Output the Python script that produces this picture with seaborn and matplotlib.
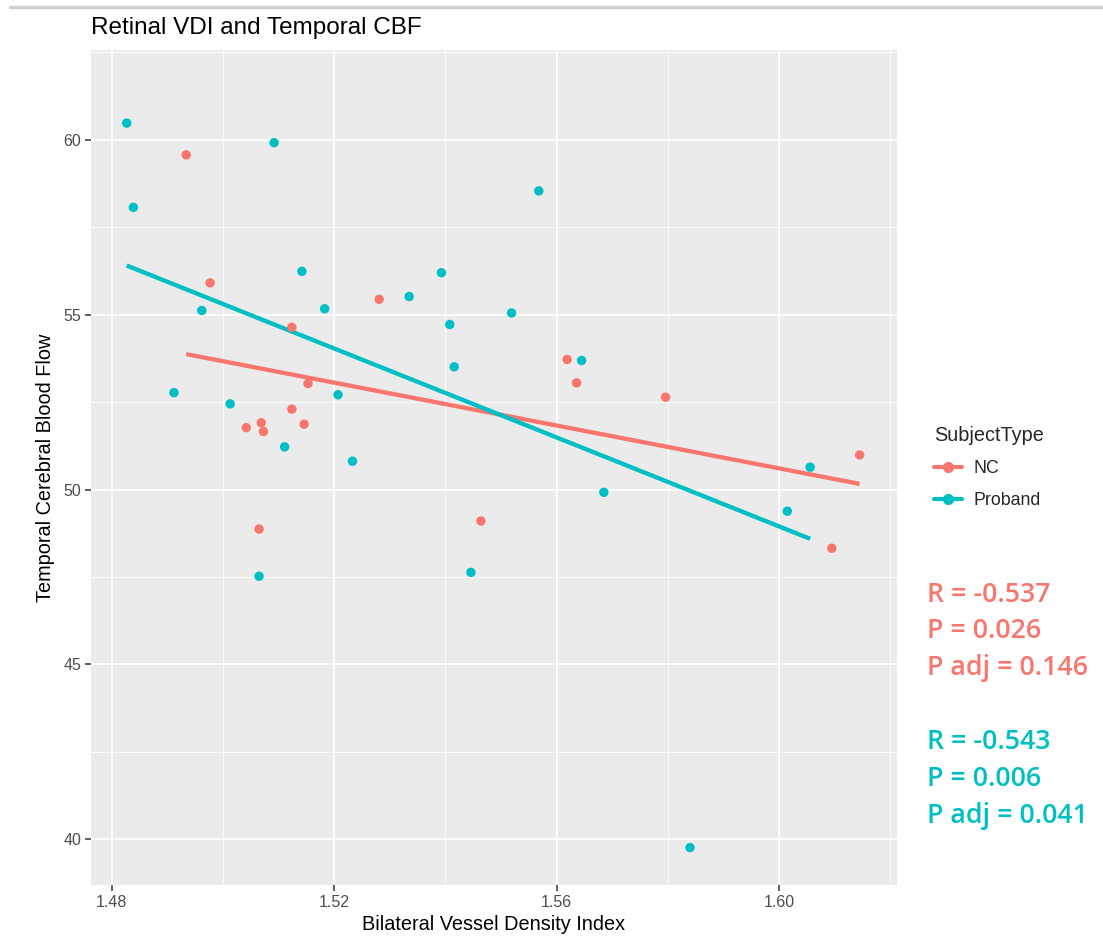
import numpy as np
import pandas as pd
import matplotlib
matplotlib.use("Agg")
import matplotlib.pyplot as plt
from matplotlib.lines import Line2D
import seaborn as sns

# ---- data ----
nc_vdi = [1.4934, 1.4977, 1.5124, 1.5281, 1.5619, 1.5636, 1.5153, 1.5124, 1.5069,
          1.5146, 1.5042, 1.5073, 1.5065, 1.5464, 1.5796, 1.6145, 1.6095]
nc_cbf = [59.57, 55.91, 54.64, 55.44, 53.72, 53.05, 53.03, 52.30, 51.91,
          51.87, 51.77, 51.66, 48.87, 49.10, 52.64, 50.99, 48.32]
pr_vdi = [1.4827, 1.5092, 1.4839, 1.5142, 1.4962, 1.5183, 1.5568, 1.5393, 1.5335,
          1.5519, 1.5408, 1.5416, 1.5645, 1.5207, 1.4912, 1.5013, 1.5111, 1.5233,
          1.5065, 1.5685, 1.5446, 1.6056, 1.6015, 1.5840]
pr_cbf = [60.48, 59.92, 58.07, 56.24, 55.12, 55.17, 58.54, 56.20, 55.52,
          55.05, 54.72, 53.51, 53.69, 52.71, 52.77, 52.45, 51.22, 50.81,
          47.52, 49.92, 47.63, 50.64, 49.38, 39.76]
groups = ["NC", "Proband"]
x_ticks = [1.48, 1.52, 1.56, 1.60]
y_ticks = [40, 45, 50, 55, 60]
stats_nc = ["R = -0.537", "P = 0.026", "P adj = 0.146"]
stats_pr = ["R = -0.543", "P = 0.006", "P adj = 0.041"]

df = pd.DataFrame({
    "VDI": nc_vdi + pr_vdi,
    "CBF": nc_cbf + pr_cbf,
    "SubjectType": ["NC"] * len(nc_vdi) + ["Proband"] * len(pr_vdi),
})

RED = "#F8766D"
TEAL = "#00BFC4"
palette = {"NC": RED, "Proband": TEAL}

sns.set_theme(style="darkgrid")
plt.rcParams["font.family"] = ["Liberation Sans", "DejaVu Sans"]

W, H = 1103, 938
fig = plt.figure(figsize=(W / 100, H / 100), dpi=100)
ax = fig.add_axes([91 / W, (H - 885) / H, (897 - 91) / W, (885 - 50) / H])
ax.set_facecolor("#EBEBEB")

sns.scatterplot(data=df, x="VDI", y="CBF", hue="SubjectType", palette=palette,
                s=46, linewidth=0, ax=ax, legend=False, zorder=3)
for g in groups:
    sub = df[df.SubjectType == g]
    sns.regplot(data=sub, x="VDI", y="CBF", scatter=False, ci=None, truncate=True,
                color=palette[g], line_kws={"lw": 3.1, "solid_capstyle": "butt"},
                ax=ax)

ax.set_xlim(1.47628, 1.62122)
ax.set_ylim(38.69, 62.57)
ax.set_xticks(x_ticks)
ax.set_xticklabels([f"{v:.2f}" for v in x_ticks])
ax.set_yticks(y_ticks)
ax.set_xticks([1.50, 1.54, 1.58, 1.62], minor=True)
ax.set_yticks([42.5, 47.5, 52.5, 57.5, 62.5], minor=True)
ax.grid(which="major", color="white", lw=1.3)
ax.grid(which="minor", color="white", lw=0.6)
ax.set_axisbelow(True)
for s in ax.spines.values():
    s.set_visible(False)
ax.tick_params(axis="both", which="major", length=4, width=1.1, color="#333333",
               labelsize=11.5, labelcolor="#4D4D4D", pad=3, direction="out",
               bottom=True, left=True)
ax.tick_params(axis="both", which="minor", length=0)

ax.set_xlabel("Bilateral Vessel Density Index", fontsize=14.3, color="black", labelpad=4)
ax.set_ylabel("Temporal Cerebral Blood Flow", fontsize=14.3, color="black", labelpad=6)
fig.text(91 / W, 1 - 28 / H, "Retinal VDI and Temporal CBF", fontsize=17.5,
         va="center", ha="left", color="black")

# legend
handles = [Line2D([0], [0], color=palette[g], lw=3.0, marker="o", markersize=7)
           for g in groups]
leg = fig.legend(handles, groups, title="SubjectType", loc="upper left",
                 bbox_to_anchor=(918 / W, 1 - 410 / H), frameon=False,
                 fontsize=12.8, title_fontsize=14.3, handlelength=1.6,
                 labelspacing=0.85, handletextpad=0.6)
leg._legend_box.align = "left"

# stats annotations
for i, t in enumerate(stats_nc):
    fig.text(927 / W, 1 - (595 + 36.5 * i) / H, t, color=RED, fontsize=19.3,
             family=["Open Sans", "DejaVu Sans"], weight="semibold",
             va="center", ha="left")
for i, t in enumerate(stats_pr):
    fig.text(927 / W, 1 - (742 + 37 * i) / H, t, color=TEAL, fontsize=19.3,
             family=["Open Sans", "DejaVu Sans"], weight="semibold",
             va="center", ha="left")

# top border line of the screenshot
fig.add_artist(Line2D([10 / W, 1.0], [1 - 7 / H, 1 - 7 / H], color="#D0D0D0",
                      lw=2.5, transform=fig.transFigure))

fig.savefig("out.png", dpi=100, facecolor="white")
